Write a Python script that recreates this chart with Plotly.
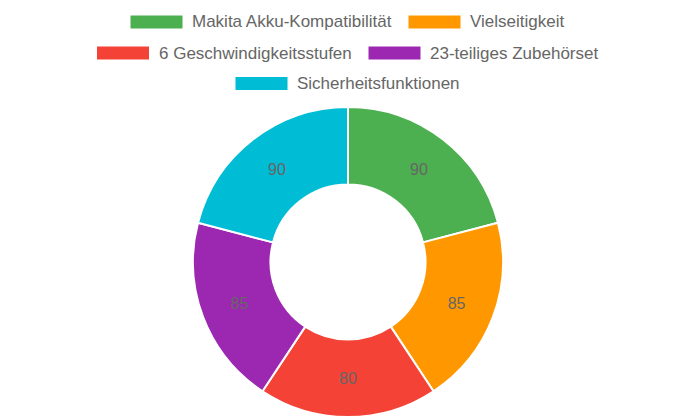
import plotly.graph_objects as go

labels = ["Makita Akku-Kompatibilität", "Vielseitigkeit", "6 Geschwindigkeitsstufen",
          "23-teiliges Zubehörset", "Sicherheitsfunktionen"]
values = [90, 85, 80, 85, 90]
colors = ["#4CAF50", "#FF9800", "#F44336", "#9C27B0", "#00BCD4"]

W, H = 696, 418
cx, cy, r = 348, 262, 155

fig = go.Figure(go.Pie(
    labels=labels, values=values, sort=False, direction="clockwise", rotation=0,
    hole=0.5,
    marker=dict(colors=colors, line=dict(color="white", width=2)),
    textinfo="value", textposition="inside", insidetextorientation="horizontal",
    textfont=dict(family="Liberation Sans, Arial, sans-serif", size=16, color="#666666"),
    domain=dict(x=[(cx - r) / W, (cx + r) / W], y=[(H - cy - r) / H, (H - cy + r) / H]),
    showlegend=False, hoverinfo="label+value",
))

# custom legend (Chart.js style boxes), pixel layout
legend_box_x = [130, 408, 96.5, 368, 235]
legend_y = [22, 22, 53, 53, 83.5]
box_w, box_h, gap = 53, 14, 7
font_px = 17

shapes, annotations = [], []
for i, lab in enumerate(labels):
    x = legend_box_x[i]
    y = legend_y[i]
    shapes.append(dict(type="rect", xref="paper", yref="paper",
                       x0=x / W, x1=(x + box_w) / W,
                       y0=1 - (y - box_h / 2) / H, y1=1 - (y + box_h / 2) / H,
                       fillcolor=colors[i], line=dict(color="white", width=1)))
    annotations.append(dict(xref="paper", yref="paper", x=(x + box_w + gap) / W,
                            y=1 - y / H, text=lab, showarrow=False,
                            xanchor="left", yanchor="middle",
                            font=dict(family="Liberation Sans, Arial, sans-serif",
                                      size=font_px, color="#666666")))

fig.update_layout(width=W, height=H, margin=dict(l=0, r=0, t=0, b=0),
                  paper_bgcolor="white", plot_bgcolor="white",
                  shapes=shapes, annotations=annotations)
fig.write_html("out.html")
